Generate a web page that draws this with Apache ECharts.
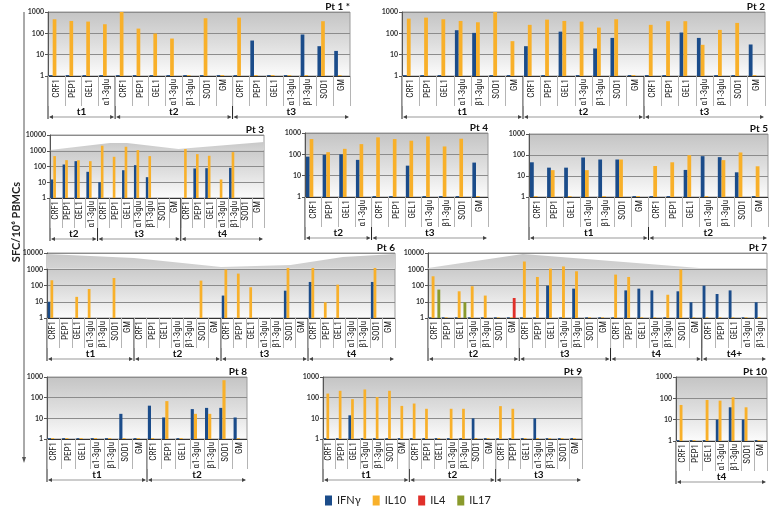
<!DOCTYPE html>
<html><head><meta charset="utf-8">
<script src="https://cdn.jsdelivr.net/npm/echarts@6/dist/echarts.min.js"></script>
<style>html,body{margin:0;padding:0;background:#fff}#c{width:772px;height:507px}</style>
</head><body><div id="c"></div>
<script>
const S = 1.1;   // tiny baseline stub visible in the picture
const n = null;  // nothing drawn

const AG7 = ['CRF1','PEP1','GEL1','α1-3glu','β1-3glu','SOD1','GM'];
const AG4 = ['CRF1','PEP1','GEL1','α1-3glu'];
const AG5 = ['CRF1','PEP1','GEL1','α1-3glu','β1-3glu'];
const seriesNames = ['IFNγ','IL10','IL4','IL17'];
const yTickLabels = ['1','10','100','1000','10000'];

// Pt 1
const pt1Groups = [['t1',AG4],['t2',AG7],['t3',AG7]];
const pt1Ifng = [S,S,S,S, S,S,S,S,S,S,S, S,46,S,S,88,25,15];
const pt1Il10 = [457,380,355,267, 1000,167,98,57,S,510,S, 545,S,S,S,S,370,S];
// Pt 2
const pt2Groups = [['t1',AG7],['t2',AG7],['t3',AG7]];
const pt2Ifng = [S,S,S,140,105,S,S, 25,S,120,S,19.5,61,S, S,S,109,61,S,S,30];
const pt2Il10 = [490,545,457,380,330,1000,43, 250,440,380,355,186,457,S, 250,370,370,29,145,308,S];
// Pt 3
const pt3Groups = [['t2',AG4],['t3',AG7],['t4',AG7]];
const pt3Ifng = [15,134,218,46, 10,n,58,122,21,n,n, n,75,78,n,82,n,n];
const pt3Il10 = [457,253,250,218, 2100,414,1800,1100,457,n,n, 1280,610,480,15,820,n,n];
// Pt 4
const pt4Groups = [['t2',AG4],['t3',AG7]];
const pt4Ifng = [78,94,100,55, S,S,29.5,S,S,S,41];
const pt4Il10 = [520,126,181,302, 625,520,435,690,234,540,S];
// Pt 5
const pt5Groups = [['t1',AG7],['t2',AG7]];
const pt5Ifng = [45,25,25,76,61,61,S, S,S,19.5,88,79,15,S];
const pt5Il10 = [S,19,S,19,S,61,S, 30,45,98,S,57,132,29];
// Pt 6
const pt6Groups = [['t1',AG7],['t2',AG7],['t3',AG7],['t4',AG7]];
const pt6Ifng = [10,n,n,n,n,n,n, n,n,n,n,n,n,n, 24,n,n,n,n,48,n, 165,n,n,n,n,165,n];
const pt6Il10 = [210,n,20,61,n,290,n, n,n,n,n,n,200,n, 950,540,78,n,n,1200,n, 1200,9.3,113,n,n,1200,n];
// Pt 7
const pt7Groups = [['t2',AG7],['t3',AG7],['t4',AG7],['t4+',AG5]];
const pt7Ifng = [S,S,S,S,S,S,S, S,S,98,S,64,S,S, S,50,64,50,S,44,9.3, 98,30,50,S,9.3];
const pt7Il10 = [370,S,44,90,24,S,S, 3000,335,1100,1500,750,S,S, 470,335,S,S,27,950,S, S,S,S,S,S];
const pt7Il4  = [n,n,n,n,n,n,17, n,n,n,n,n,n,n, n,n,n,n,n,n,n, n,n,n,n,n];
const pt7Il17 = [56,n,9.3,n,n,n,n, n,n,n,n,n,n,n, n,n,n,n,n,n,n, n,n,n,n,n];
// Pt 8
const pt8Groups = [['t1',AG7],['t2',AG7]];
const pt8Ifng = [S,S,S,S,S,16.5,S, 41,11,S,28,32,32,11];
const pt8Il10 = [S,S,S,S,S,S,S, S,68,S,16.5,16.5,700,S];
// Pt 9
const pt9Groups = [['t1',AG7],['t2',AG7],['t3',AG7]];
const pt9Ifng = [S,S,14,S,S,S,S, S,S,S,S,S,10,S, S,S,S,10,S,S,S];
const pt9Il10 = [158,215,85,250,108,215,40, 52,29,S,29,29,S,S, 39,29,S,S,S,S,S];
// Pt 10
const pt10Groups = [['t4',AG7]];
const pt10Ifng = [S,S,S,10,38,10,S];
const pt10Il10 = [49,S,84,78,112,38,S];

// ---------- layout / style ----------
const COLORS = ['#1b4c8a','#f8b02a','#e0302a','#8a9a2c'];
const FONT = 'Lato, "Liberation Sans", "DejaVu Sans", sans-serif';
const NARROW = '"Liberation Sans Narrow", "Roboto Condensed", Lato, sans-serif';
// wave: decorative grey shape above the 1000 line (fractions of plot width, px from plot top)
const panels = [
  {title:'Pt 1 *', groups:pt1Groups, data:[pt1Ifng,pt1Il10,[],[]], max:1000, box:[48,12,302,64]},
  {title:'Pt 2',   groups:pt2Groups, data:[pt2Ifng,pt2Il10,[],[]], max:1000, box:[402,12,363,64]},
  {title:'Pt 3',   groups:pt3Groups, data:[pt3Ifng,pt3Il10,[],[]], max:10000, box:[50,135,214,63],
     wave:[[0,15],[0.28,8],[0.36,8],[0.6,14],[1,7]]},
  {title:'Pt 4',   groups:pt4Groups, data:[pt4Ifng,pt4Il10,[],[]], max:1000, box:[305,133,183,64]},
  {title:'Pt 5',   groups:pt5Groups, data:[pt5Ifng,pt5Il10,[],[]], max:1000, box:[529,134,239,63]},
  {title:'Pt 6',   groups:pt6Groups, data:[pt6Ifng,pt6Il10,[],[]], max:10000, box:[47,253,348,65],
     wave:[[0,1],[0.25,5],[0.5,14],[0.7,12],[0.85,4],[1,1]]},
  {title:'Pt 7',   groups:pt7Groups, data:[pt7Ifng,pt7Il10,pt7Il4,pt7Il17], max:10000, box:[428,253,339,65],
     wave:[[0,15],[0.28,1],[0.8,15],[1,15]]},
  {title:'Pt 8',   groups:pt8Groups, data:[pt8Ifng,pt8Il10,[],[]], max:1000, box:[47,377,200,62]},
  {title:'Pt 9',   groups:pt9Groups, data:[pt9Ifng,pt9Il10,[],[]], max:1000, box:[323,377,259,62]},
  {title:'Pt 10',  groups:pt10Groups, data:[pt10Ifng,pt10Il10,[],[]], max:1000, box:[676,377,91,64]}
];
panels.forEach(p => { p.cats = [].concat(...p.groups.map(g => g[1])); });

const chart = echarts.init(document.getElementById('c'), null, {renderer:'canvas'});
const grad = (p) => {
  if (p.max === 10000) {
    return new echarts.graphic.LinearGradient(0,0,0,1,[
      {offset:0,color:'#ffffff'},{offset:0.245,color:'#ffffff'},{offset:0.25,color:'#cbcbcb'},
      {offset:0.6,color:'#e0e0e0'},{offset:1,color:'#fcfcfc'}]);
  }
  return new echarts.graphic.LinearGradient(0,0,0,1,[
    {offset:0,color:'#c4c4c4'},{offset:0.5,color:'#dedede'},{offset:1,color:'#fcfcfc'}]);
};

const option = {
  animation:false,
  textStyle:{fontFamily:FONT},
  legend:{
    data:seriesNames, left:320, top:490, icon:'rect', itemWidth:7, itemHeight:10, itemGap:12,
    textStyle:{fontSize:11, color:'#222', fontFamily:FONT}, selectedMode:false
  },
  grid: panels.map(p => ({left:p.box[0], top:p.box[1], width:p.box[2], height:p.box[3],
    show:true, borderColor:'#9a9a9a', borderWidth:1, backgroundColor:grad(p), containLabel:false})),
  xAxis: panels.map((p,i) => ({
    type:'category', gridIndex:i, data:p.cats,
    axisLine:{lineStyle:{color:'#333', width:1}},
    axisTick:{show:true, interval:0, length:30, lineStyle:{color:'#b4b4b4'}},
    axisLabel:{interval:0, rotate:90, fontSize:9, color:'#222', margin:3, fontFamily:NARROW},
    splitLine:{show:false}
  })),
  yAxis: panels.map((p,i) => ({
    type:'log', logBase:10, gridIndex:i, min:1, max:p.max,
    axisLine:{show:true, lineStyle:{color:'#555'}},
    axisTick:{show:true, length:3, lineStyle:{color:'#555'}},
    axisLabel:{fontSize:7, fontWeight:'bold', color:'#333', margin:4, fontFamily:FONT,
      formatter: v => yTickLabels[Math.round(Math.log10(v))]},
    splitLine:{show:true, lineStyle:{color:'#8c8c8c', width:1}}
  })),
  series: []
};
panels.forEach((p,i) => {
  seriesNames.forEach((nm,k) => {
    option.series.push({
      type:'bar', name:nm, xAxisIndex:i, yAxisIndex:i, data:p.data[k],
      barGap:'0%', barCategoryGap:'12%', itemStyle:{color:COLORS[k]}, silent:true
    });
  });
});
chart.setOption(option);

// ---------- category-group brackets, titles and decoration, placed through the axes ----------
const els = [];
panels.forEach((p,i) => {
  const N = p.cats.length;
  const a = chart.convertToPixel({gridIndex:i},[0,1]);
  const b = chart.convertToPixel({gridIndex:i},[1,1]);
  const top = chart.convertToPixel({gridIndex:i},[0,p.max])[1];
  const bw = b[0]-a[0], yb = a[1];
  const left = a[0]-bw/2, right = left + bw*N;
  if (p.wave) {
    const y1000 = chart.convertToPixel({gridIndex:i},[0,1000])[1];
    const pts = p.wave.map(([fx,dy]) => [left + fx*(right-left), top + dy]);
    pts.push([right, y1000-0.5], [left, y1000-0.5]);
    els.push({type:'polygon', z:1, silent:true, shape:{points:pts},
      style:{fill:new echarts.graphic.LinearGradient(0,0,0,1,[{offset:0,color:'#c8c8c8'},{offset:1,color:'#d4d4d4'}])}});
  }
  els.push({type:'text', x:right, y:top-5, z:10,
    style:{text:p.title, font:'bold 10px '+FONT, fill:'#111', align:'right', verticalAlign:'middle'}});
  const yArr = yb+41, yLab = yb+36;
  let k = 0;
  p.groups.forEach(([name, ags]) => {
    const gl = left + k*bw, gr = left + (k+ags.length)*bw;
    els.push({type:'line', shape:{x1:gl,y1:yb,x2:gl,y2:yArr+2}, style:{stroke:'#222', lineWidth:1}});
    els.push({type:'line', shape:{x1:gl+2,y1:yArr,x2:gr-2,y2:yArr}, style:{stroke:'#999', lineWidth:1}});
    els.push({type:'polygon', shape:{points:[[gl+1,yArr],[gl+5,yArr-2],[gl+5,yArr+2]]}, style:{fill:'#444'}});
    els.push({type:'polygon', shape:{points:[[gr-1,yArr],[gr-5,yArr-2],[gr-5,yArr+2]]}, style:{fill:'#444'}});
    els.push({type:'text', x:(gl+gr)/2, y:yLab,
      style:{text:name, font:'bold 10px '+FONT, fill:'#111', align:'center', verticalAlign:'middle'}});
    k += ags.length;
  });
});
els.push({type:'text', x:16, y:222, rotation:Math.PI/2,
  style:{text:'SFC/10⁶ PBMCs', font:'bold 11px '+FONT, fill:'#222', align:'center', verticalAlign:'middle'}});
els.push({type:'line', shape:{x1:24,y1:12,x2:24,y2:460}, style:{stroke:'#555', lineWidth:1}});
els.push({type:'polygon', shape:{points:[[24,463],[22,457],[26,457]]}, style:{fill:'#555'}});
chart.setOption({graphic:els});
</script></body></html>
